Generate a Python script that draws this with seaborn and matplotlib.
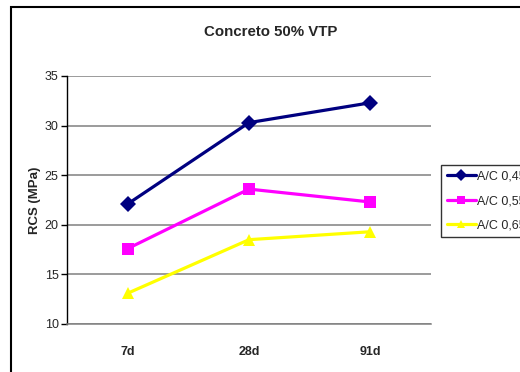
import matplotlib
matplotlib.use("Agg")
import matplotlib.pyplot as plt
import seaborn as sns
import pandas as pd
from matplotlib.patches import Rectangle

edades = ["7d", "28d", "91d"]
series = ["A/C 0,45", "A/C 0,55", "A/C 0,65"]
ac045 = [22.1, 30.3, 32.3]
ac055 = [17.6, 23.6, 22.3]
ac065 = [13.1, 18.5, 19.3]
colores = ["#000080", "#FF00FF", "#FFFF00"]
marcadores = ["D", "s", "^"]

rows = []
for s, vals in zip(series, [ac045, ac055, ac065]):
    for e, v in zip(edades, vals):
        rows.append({"edad": e, "RCS": v, "serie": s})
df = pd.DataFrame(rows)

sns.set_style("white")
plt.rcParams["font.family"] = ["Liberation Sans", "DejaVu Sans"]

fig = plt.figure(figsize=(5.2, 3.72), dpi=100)
ax = fig.add_axes([67/520, 48/372, 364/520, 248/372])

sns.lineplot(data=df, x="edad", y="RCS", hue="serie", style="serie",
             palette=colores, markers=marcadores, dashes=False,
             linewidth=2.3, markersize=8, markeredgewidth=0,
             sort=False, ax=ax, legend=True)

ax.set_xlim(-0.5, 2.5)
ax.set_ylim(10, 35)
ax.set_yticks([10, 15, 20, 25, 30, 35])
ax.yaxis.grid(True, color="#808080", linewidth=1.1)
ax.set_axisbelow(True)
for side in ["top", "right"]:
    ax.spines[side].set_visible(False)
ax.spines["left"].set_color("black")
ax.spines["left"].set_linewidth(1)
ax.spines["bottom"].set_color("#808080")
ax.spines["bottom"].set_linewidth(1.1)
ax.tick_params(axis="y", direction="out", length=4, width=1, color="black",
               labelsize=9, pad=2, left=True)
ax.tick_params(axis="x", length=0, labelsize=9, pad=16)
for lbl in ax.get_xticklabels():
    lbl.set_fontweight("bold")
ax.set_xlabel("")
ax.set_ylabel("RCS (MPa)", fontsize=9.5, fontweight="bold", labelpad=3)

fig.text(271/520, 1 - 32/372, "Concreto 50% VTP", ha="center", va="center",
         fontsize=10.8, fontweight="bold")

handles, labels = ax.get_legend_handles_labels()
ax.get_legend().remove()
leg = fig.legend(handles, labels, loc="upper left",
                 bbox_to_anchor=(441/520, 1 - 165/372),
                 frameon=True, fancybox=False, edgecolor="black",
                 fontsize=9, handlelength=2.35, handletextpad=0.1,
                 borderpad=0.45, labelspacing=1.0, borderaxespad=0)
leg.get_frame().set_linewidth(1)
for h in leg.legend_handles:
    h.set_markersize(6)

fig.patches.append(Rectangle((11/520, -0.1), 1.2, 1.1 - 7/372,
                             transform=fig.transFigure, fill=False,
                             edgecolor="black", linewidth=1.5))

fig.savefig("out.png", dpi=100)
